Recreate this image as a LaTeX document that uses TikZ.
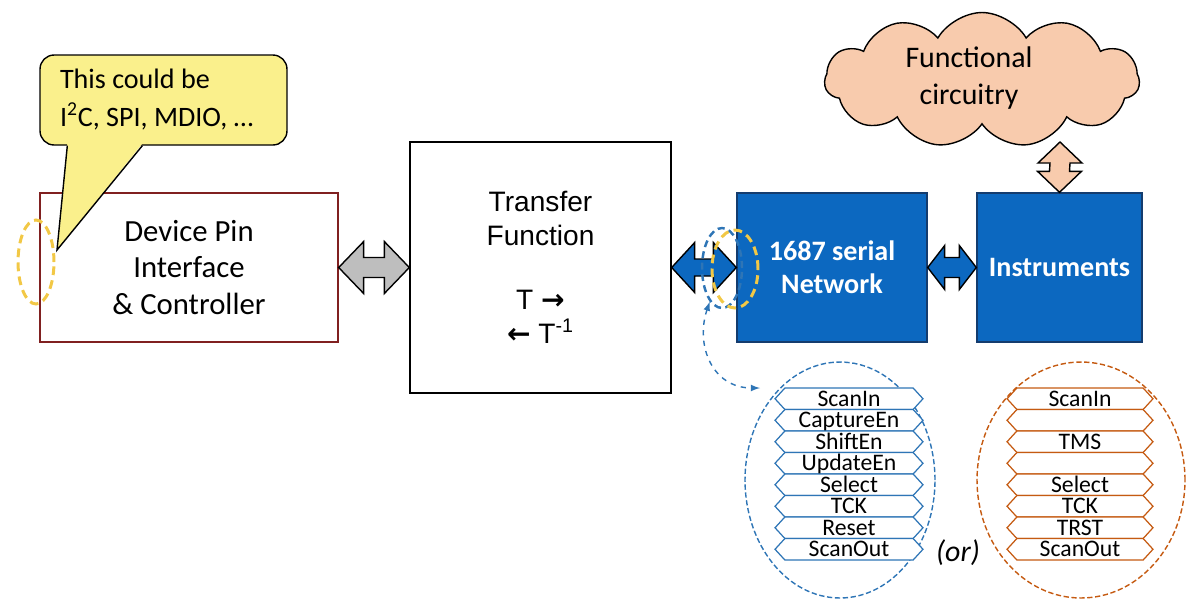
\documentclass[tikz,border=0pt]{standalone}
\usepackage{fontspec}
\setmainfont{Carlito}
\newfontfamily\arialfont{Liberation Sans}
\newfontfamily\arrowfont{DejaVu Sans}
\usetikzlibrary{shapes.geometric,shapes.symbols,calc,arrows}
\definecolor{boxred}{RGB}{128,32,32}
\definecolor{noteyellow}{RGB}{250,240,140}
\definecolor{pinyellow}{RGB}{242,200,70}
\definecolor{arrowgray}{RGB}{190,190,190}
\definecolor{netblue}{RGB}{12,104,192}
\definecolor{netedge}{RGB}{20,60,110}
\definecolor{ringblue}{RGB}{46,117,182}
\definecolor{ringorange}{RGB}{197,90,17}
\definecolor{peach}{RGB}{248,203,173}
% block arrow with a head at both ends
\newcommand{\hbiarrow}[6]{%
  \draw[#1] (#2) -- ($(#2)+(#4,-#5)$) -- ($(#2)+(#4,-#6)$) -- ($(#3)+(-#4,-#6)$) -- ($(#3)+(-#4,-#5)$) -- (#3) -- ($(#3)+(-#4,#5)$) -- ($(#3)+(-#4,#6)$) -- ($(#2)+(#4,#6)$) -- ($(#2)+(#4,#5)$) -- cycle;}
\newcommand{\vbiarrow}[6]{%
  \draw[#1] (#2) -- ($(#2)+(-#5,#4)$) -- ($(#2)+(-#6,#4)$) -- ($(#3)+(-#6,-#4)$) -- ($(#3)+(-#5,-#4)$) -- (#3) -- ($(#3)+(#5,-#4)$) -- ($(#3)+(#6,-#4)$) -- ($(#2)+(#6,#4)$) -- ($(#2)+(#5,#4)$) -- cycle;}

\begin{document}
\begin{tikzpicture}[x=0.02cm,y=-0.02cm,
  box/.style={draw, line width=0.8pt, minimum height=2.98cm, align=center},
  bigarrow/.style={draw=black, line width=0.8pt, line join=miter},
  ring/.style={ellipse, draw, inner sep=0pt},
  sigrow/.style={signal, signal to=east and west, signal pointer angle=95, draw, fill=white, line width=0.7pt, minimum height=0.43cm, inner sep=0pt, text height=9.5pt, text depth=1pt, font=\fontsize{13.5}{13.5}\selectfont}]
\useasboundingbox (0,0) rectangle (1186,600);

% boxes
\node[box, draw=boxred, minimum width=5.96cm, font=\fontsize{17.5}{21}\selectfont] (dev) at (189,267.5) {Device Pin\\Interface\\\& Controller};
\node[box, minimum width=5.22cm, minimum height=5.02cm, font=\arialfont\fontsize{16}{19.3}\selectfont] (tf) at (540.5,267.5) {Transfer\\Function\\[17pt]T {\arrowfont\bfseries →}\\{\arrowfont\bfseries ←} T\textsuperscript{-1}};
\node[box, draw=netedge, fill=netblue, text=white, minimum width=3.80cm, font=\bfseries\fontsize{16}{18.8}\selectfont] (net) at (832,267.5) {1687 serial\\Network};
\node[box, draw=netedge, fill=netblue, text=white, minimum width=3.30cm, font=\bfseries\fontsize{16}{19}\selectfont] (inst) at (1059.5,267.5) {Instruments};

% cloud
\node[cloud, draw, fill=peach, line width=0.8pt, cloud puffs=11, cloud puff arc=120, aspect=2.3, minimum width=6.3cm, minimum height=2.7cm, inner sep=0pt] (cloud) at (982,80) {};
\node[font=\fontsize{17}{21}\selectfont, align=center] (cloudtxt) at (969,78) {Functional\\circuitry};
\coordinate (cloudfoot) at (1060,142);

% block arrows
\hbiarrow{bigarrow, fill=arrowgray}{dev.east}{tf.west}{25}{26}{10}
\hbiarrow{bigarrow, fill=netblue}{tf.east}{net.west}{23}{25}{8.5}
\hbiarrow{bigarrow, fill=netblue}{net.east}{inst.west}{17}{22}{10}
\vbiarrow{bigarrow, fill=peach}{cloudfoot}{inst.north}{21}{22}{10}

% callout
\node[draw, fill=noteyellow, line width=0.8pt, rounded corners=8pt, minimum width=4.94cm, minimum height=1.80cm, text width=4.14cm, align=flush left, inner xsep=0.4cm, font=\fontsize{16}{21.6}\selectfont] (note) at (163.5,100) {This could be\\I\textsuperscript{2}C, SPI, MDIO, …};
\node[ring, dashed, draw=pinyellow, line width=1.7pt, dash pattern=on 5pt off 3pt, minimum width=0.72cm, minimum height=1.68cm] (pinring) at (36,262) {};
\coordinate (pintip) at (57,250);
\fill[noteyellow] ($(note.south west)+(28,-2)$) -- (pintip) -- ($(note.south west)+(103,-2)$) -- cycle;
\draw[line width=0.8pt, line join=miter] ($(note.south west)+(28,0)$) -- (pintip) -- ($(note.south west)+(103,0)$);

% rings at the network port
\node[ring, draw=ringblue, line width=1.4pt, dash pattern=on 4pt off 2.5pt, minimum width=0.8cm, minimum height=1.6cm] (netring) at (722,268) {};
\node[ring, draw=pinyellow, line width=1.7pt, dash pattern=on 5pt off 3pt, minimum width=0.92cm, minimum height=1.56cm] (tapring) at (735,269) {};

% signal lists
\node[ring, draw=ringblue, line width=0.8pt, dash pattern=on 3pt off 1.5pt, minimum width=3.80cm, minimum height=4.72cm] (sigring) at (840,480) {};
\node[ring, draw=ringorange, line width=0.8pt, dash pattern=on 3pt off 1.5pt, minimum width=4.16cm, minimum height=4.72cm] (jtagring) at (1081,480) {};
\foreach \lbl [count=\i] in {ScanIn,CaptureEn,ShiftEn,UpdateEn,Select,TCK,Reset,ScanOut}
  \node[sigrow, draw=ringblue, minimum width=2.96cm] (s\i) at (849,{377.25+\i*21.5}) {\lbl};
\foreach \lbl [count=\i] in {ScanIn,{},TMS,{},Select,TCK,TRST,ScanOut}
  \node[sigrow, draw=ringorange, minimum width=2.92cm] (j\i) at (1080,{377.25+\i*21.5}) {\lbl};
\node[font=\itshape\fontsize{17}{17}\selectfont] (or) at (958,553) {(or)};

\coordinate (listtip) at (760,388);
\draw[ringblue, line width=0.8pt, dashed, <->, >=latex] (netring.250) .. controls (695,345) and (712,388) .. (listtip);
\end{tikzpicture}
\end{document}
